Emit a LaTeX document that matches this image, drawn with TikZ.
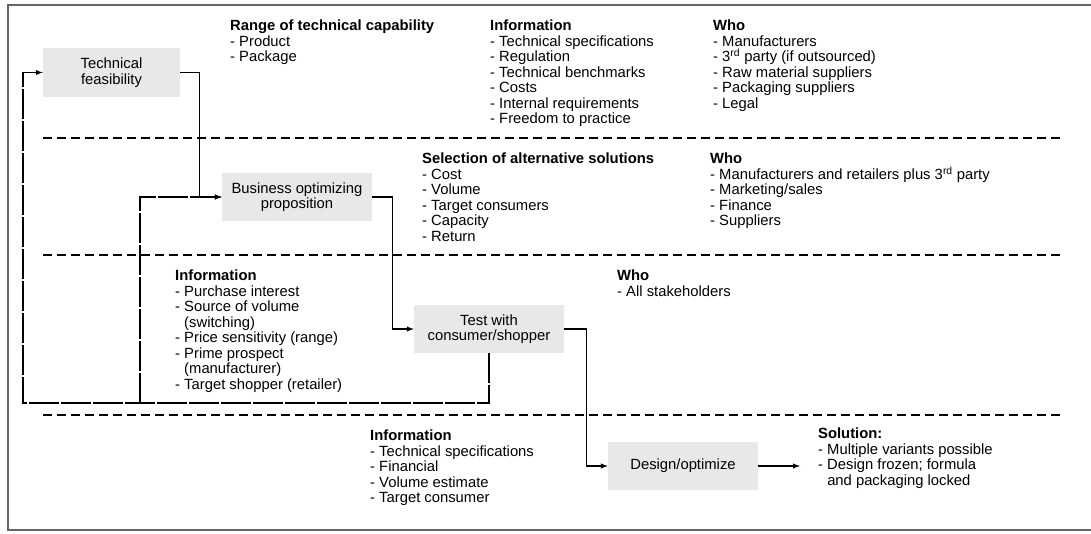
\documentclass[tikz,border=0pt]{standalone}
\usepackage{fontspec}
\setmainfont{Liberation Sans}
\usetikzlibrary{positioning}

\begin{document}
\begin{tikzpicture}[x=1pt,y=-1pt,
    every node/.style={font=\fontsize{14.8}{15.5}\selectfont},
    stage/.style={fill=black!9,minimum width=150pt,minimum height=48pt,align=center,inner sep=0pt},
    info/.style={anchor=north west,align=left,inner sep=0pt},
    flow/.style={line width=1.4pt,-latex},
    back/.style={line width=1.4pt,dash pattern=on 30pt off 2pt,-latex},
    band/.style={line width=1.3pt,dash pattern=on 9pt off 5pt}]
\useasboundingbox (0,0) rectangle (1091,534);
\def\gap{\hphantom{-\ }}

% frame and bands
\draw[black!60,line width=1.5pt] (1091,5) -- (8,5) -- (8,530) -- (1091,530);
\foreach \y in {138,255,415}
    \draw[band] (43,\y) -- (1060,\y);

% stages
\node[stage,minimum width=137pt,minimum height=49pt] (tech) at (111.5,72.5) {Technical\\feasibility};
\node[stage] (busi) at (297,197) {Business optimizing\\proposition};
\node[stage] (test) at (489,329) {Test with\\consumer/shopper};
\node[stage] (design) at (683,466) {Design/optimize};

% texts
\node[info] (range) at (230,20) {\textbf{Range of technical capability}\\- Product\\- Package};
\node[info] (info1) at (490,20) {\textbf{Information}\\- Technical specifications\\- Regulation\\- Technical benchmarks\\- Costs\\- Internal requirements\\- Freedom to practice};
\node[info] (who1) at (713,20) {\textbf{Who}\\- Manufacturers\\- 3\textsuperscript{rd} party (if outsourced)\\- Raw material suppliers\\- Packaging suppliers\\- Legal};

\node[info] (select) at (422,153) {\textbf{Selection of alternative solutions}\\- Cost\\- Volume\\- Target consumers\\- Capacity\\- Return};
\node[info] (who2) at (710,153) {\textbf{Who}\\- Manufacturers and retailers plus 3\textsuperscript{rd} party\\- Marketing/sales\\- Finance\\- Suppliers};

\node[info] (info3) at (175,270) {\textbf{Information}\\- Purchase interest\\- Source of volume\\\gap(switching)\\- Price sensitivity (range)\\- Prime prospect\\\gap(manufacturer)\\- Target shopper (retailer)};
\node[info] (who3) at (617,270) {\textbf{Who}\\- All stakeholders};

\node[info] (info4) at (370,430) {\textbf{Information}\\- Technical specifications\\- Financial\\- Volume estimate\\- Target consumer};
\node[info] (sol) at (818,428) {\textbf{Solution:}\\- Multiple variants possible\\- Design frozen; formula\\\gap and packaging locked};

% forward flow
\draw[flow] (tech.east) -- ++(19,0) |- (busi.west);
\draw[flow] (busi.east) -- ++(20,0) |- (test.west);
\draw[flow] (test.east) -- ++(22,0) |- (design.west);
\coordinate (solin) at (800,466);
\draw[flow] (design.east) -- (solin);

% feedback
\coordinate (loopL) at (23,403);
\coordinate (loopM) at (140,403);
\draw[back] (test.south) |- (loopL) |- (tech.west);
\draw[back] (loopM) |- (busi.west);

\end{tikzpicture}
\end{document}
